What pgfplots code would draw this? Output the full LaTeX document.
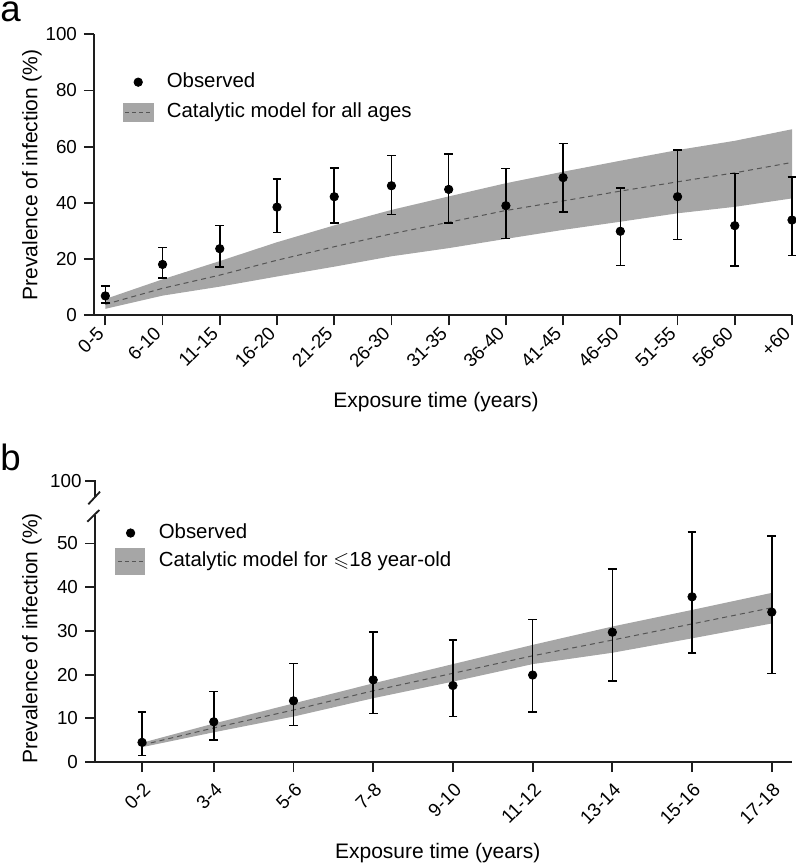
\documentclass[border=0pt]{standalone}
\usepackage{fontspec}
\setmainfont{Liberation Sans}
\usepackage{amssymb}
\usepackage{pgfplots}
\usepackage{pgfplotstable}
\pgfplotsset{compat=1.18}
\definecolor{band}{RGB}{166,166,166}
\definecolor{dashc}{RGB}{85,85,85}
\definecolor{axc}{RGB}{30,30,30}

% observed values with 95% CI and fitted model (mid)
\pgfplotstableread{
x  y    top  bot  mid
0  6.9  10.4 4.3  3.9
1  18.1 24.2 13.3 9.6
2  23.7 32.0 17.2 14.3
3  38.5 48.5 29.5 19.6
4  42.2 52.4 32.8 24.4
5  46.1 56.8 35.8 29.0
6  44.8 57.4 32.8 33.1
7  39.0 52.2 27.4 37.3
8  49.0 61.2 36.8 40.7
9  29.9 45.3 17.8 44.2
10 42.2 58.9 27.0 47.5
11 31.9 50.5 17.5 50.7
12 33.9 49.3 21.2 54.4
}\dataA
% model band outline: upper bound forward, lower bound backward
\pgfplotstableread{
x  y
0  5.8
1  12.8
2  19.3
3  26.0
4  32.0
5  37.5
6  42.3
7  47.0
8  51.1
9  55.0
10 58.8
11 62.1
12 66.2
12 41.6
11 38.6
10 36.3
9  33.3
8  30.4
7  27.2
6  23.9
5  21.0
4  17.3
3  13.8
2  10.2
1  7.0
0  2.3
}\bandA

\pgfplotstableread{
x    y    top  bot  mid
1.7  4.5  11.5 1.45 3.9
3.5  9.2  16.1 5.0  7.8
5.5  14.0 22.5 8.4  11.9
7.5  18.8 29.7 11.1 16.3
9.5  17.5 27.9 10.4 20.3
11.5 19.9 32.6 11.4 24.3
13.5 29.7 44.2 18.5 27.9
15.5 37.8 52.6 25.0 31.6
17.5 34.3 51.7 20.3 35.3
}\dataB
\pgfplotstableread{
x    y
1.7  4.4
3.5  8.8
5.5  13.4
7.5  18.0
9.5  22.4
11.5 26.8
13.5 31.0
15.5 34.8
17.5 38.7
17.5 31.7
15.5 28.3
13.5 25.0
11.5 22.4
9.5  18.4
7.5  14.6
5.5  10.4
3.5  6.8
1.7  3.4
}\bandB

\pgfplotsset{
 common/.style={
  scale only axis,
  axis x line*=bottom, axis y line*=left,
  axis line style={line width=0.9pt, color=axc},
  tick style={line width=0.9pt, color=axc},
  tick align=outside,
  major tick length=5pt,
  /pgf/number format/assume math mode=true,
  tick label style={font=\fontsize{9.4}{10}\selectfont, color=black},
  label style={font=\fontsize{10.5}{12}\selectfont},
  clip=false,
  legend cell align=left,
  legend style={draw=none, fill=none, inner sep=0pt, font=\fontsize{10.2}{12}\selectfont,
    nodes={inner sep=0pt, text height=7.5pt, text depth=2.5pt},
    /tikz/every odd column/.append style={column sep=6.7pt}},
 },
 obsleg/.style={legend image code/.code={
   \path[draw=none, fill=none] (0,-4.5pt) rectangle (14.8pt,4.5pt);
   \fill[black] (7.4pt,0) circle (2.1pt);}},
 obs/.style={only marks, mark=*, mark size=2.1pt, black, forget plot,
   error bars/.cd, y dir=both, y explicit,
   error bar style={line width=0.75pt, black},
   error mark options={rotate=90, mark size=2.2pt, line width=0.75pt, black}},
}

\begin{document}
\begin{tikzpicture}
\useasboundingbox (0,0) rectangle (398pt,-433pt);
\node[anchor=base west, inner sep=0pt, font=\fontsize{18.3}{20}\selectfont] at (0pt,-11pt) {a};
\node[anchor=base west, inner sep=0pt, font=\fontsize{18.3}{20}\selectfont] at (0pt,-235pt) {b};

% Panel a
\begin{axis}[common, at={(47pt,-157.65pt)}, anchor=south west,
  width=349pt, height=140.5pt,
  xmin=-0.198, xmax=12, ymin=0, ymax=100,
  ytick={0,20,40,60,80,100},
  xtick={0,...,12},
  xticklabels={0-5,6-10,11-15,16-20,21-25,26-30,31-35,36-40,41-45,46-50,51-55,56-60,+60},
  xticklabel style={rotate=45, anchor=east},
  xlabel={Exposure time (years)},
  xlabel style={at={(axis description cs:0.49,-0.31)}, anchor=center},
  ylabel={Prevalence of infection (\%)},
  ylabel style={at={(axis description cs:-0.0888,0.5)}, anchor=center},
  legend style={at={(0.041,0.775)}, anchor=west, row sep=5.35pt},
]
\addlegendimage{obsleg}
\addlegendentry{Observed}
\addlegendimage{legend image code/.code={
   \fill[band] (0,-4.5pt) rectangle (14.8pt,4.5pt);
   \draw[dashc, line width=0.5pt, dash pattern=on 2pt off 1.5pt] (1pt,0) -- (13.8pt,0);}}
\addlegendentry{Catalytic model for all ages}
\addplot[fill=band, draw=none, forget plot] table[x=x, y=y] {\bandA} -- cycle;
\addplot[dashc, line width=0.5pt, dash pattern=on 2.5pt off 2pt, forget plot] table[x=x, y=mid] {\dataA};
\addplot[obs] table[x=x, y=y, y error plus expr=\thisrow{top}-\thisrow{y}, y error minus expr=\thisrow{y}-\thisrow{bot}] {\dataA};
\end{axis}

% Panel b lower
\begin{axis}[common, at={(47.5pt,-381pt)}, anchor=south west,
  width=348.35pt, height=123.5pt,
  xmin=0.52, xmax=18, ymin=0, ymax=56.52,
  ytick={0,10,20,30,40,50},
  xtick={1.7,3.5,5.5,7.5,9.5,11.5,13.5,15.5,17.5},
  xticklabels={0-2,3-4,5-6,7-8,9-10,11-12,13-14,15-16,17-18},
  xticklabel style={rotate=45, anchor=east, yshift=-7pt},
  xlabel={Exposure time (years)},
  xlabel style={at={(axis description cs:0.492,-0.368)}, anchor=center},
  ylabel={Prevalence of infection (\%)},
  ylabel style={at={(axis description cs:-0.0904,0.5)}, anchor=center},
  legend style={at={(0.0287,0.862)}, anchor=west, row sep=2.35pt},
]
\addlegendimage{obsleg}
\addlegendentry{Observed}
\addlegendimage{legend image code/.code={
   \fill[band] (0,-6.65pt) rectangle (14.5pt,6.65pt);
   \draw[dashc, line width=0.5pt, dash pattern=on 2pt off 1.5pt] (1pt,0) -- (13.5pt,0);}}
\addlegendentry{Catalytic model for $\leqslant$18 year-old}
\addplot[fill=band, draw=none, forget plot] table[x=x, y=y] {\bandB} -- cycle;
\addplot[dashc, line width=0.5pt, dash pattern=on 2.5pt off 2pt, forget plot] table[x=x, y=mid] {\dataB};
\addplot[obs] table[x=x, y=y, y error plus expr=\thisrow{top}-\thisrow{y}, y error minus expr=\thisrow{y}-\thisrow{bot}] {\dataB};
\end{axis}

% upper stub of the broken y axis (panel b) and break marks
\draw[axc, line width=0.9pt] (47.5pt,-240.35pt) -- (47.5pt,-248.5pt);
\draw[axc, line width=0.9pt] (42.5pt,-240.35pt) -- (47.95pt,-240.35pt);
\node[anchor=east, inner sep=0pt, font=\fontsize{9.4}{10}\selectfont] at (41pt,-240.35pt) {100};
\draw[axc, line width=0.9pt] (44.15pt,-252.15pt) -- (50pt,-245.85pt);
\draw[axc, line width=0.9pt] (43.65pt,-260.85pt) -- (49.65pt,-255pt);
\end{tikzpicture}
\end{document}
